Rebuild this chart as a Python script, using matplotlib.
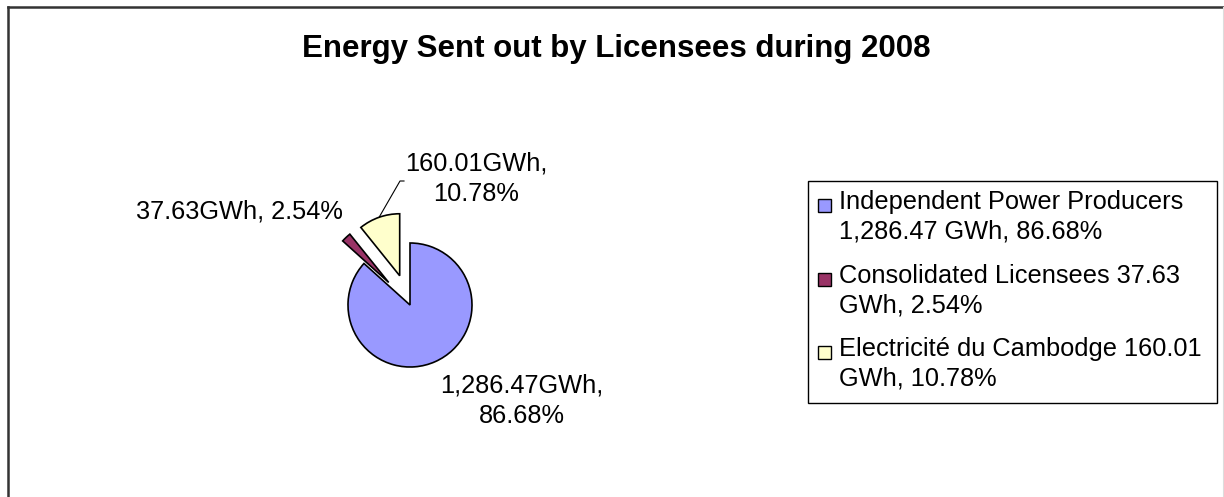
import numpy as np
import matplotlib
matplotlib.use("Agg")
import matplotlib.pyplot as plt
from matplotlib.patches import Rectangle
from matplotlib.lines import Line2D

# ---- data ----
title = "Energy Sent out by Licensees during 2008"
categories = ["Independent Power Producers", "Consolidated Licensees", "Electricité du Cambodge"]
values_gwh = [1286.47, 37.63, 160.01]
colors = ["#9999FF", "#993366", "#FFFFCC"]
explode = [0.0, 0.5, 0.5]

plt.rcParams['font.family'] = ['Liberation Sans', 'DejaVu Sans']

W, H = 1224, 497
fig = plt.figure(figsize=(W / 100, H / 100), dpi=100)

def fxy(x, y):
    return x / W, 1 - y / H

# chart border (left, top, right)
fig.add_artist(Line2D([8 / W, 8 / W], [0, 1 - 7 / H], color="#333333", lw=1.8))
fig.add_artist(Line2D([8 / W, 1 - 1 / W], [1 - 7 / H, 1 - 7 / H], color="#333333", lw=1.8))
fig.add_artist(Line2D([1 - 1.5 / W, 1 - 1.5 / W], [0, 1 - 7 / H], color="#dddddd", lw=0.8))

# title
tx, ty = fxy(616, 49)
fig.text(tx, ty, title, ha="center", va="center", fontsize=22.5, fontweight="bold")

# pie
CX, CY, R, HS = 410, 305, 62, 180
ax = fig.add_axes([(CX - HS) / W, (H - CY - HS) / H, 2 * HS / W, 2 * HS / H])
wedges, _ = ax.pie(values_gwh, colors=colors, explode=explode, startangle=90,
                   counterclock=False, radius=1.0,
                   wedgeprops=dict(edgecolor="black", linewidth=1.2))
ax.set_xlim(-HS / R, HS / R)
ax.set_ylim(-HS / R, HS / R)
ax.axis("off")

def d(px, py):
    return (px - CX) / R, (CY - py) / R

total = sum(values_gwh)
pcts = [v / total * 100 for v in values_gwh]

lab_ipp = f"{values_gwh[0]:,.2f}GWh,\n{pcts[0]:.2f}%"
lab_cl = f"{values_gwh[1]:,.2f}GWh, {pcts[1]:.2f}%"
lab_edc = f"{values_gwh[2]:,.2f}GWh,\n{pcts[2]:.2f}%"

FS = 18.3
ax.text(*d(522, 401), lab_ipp, ha="center", va="center", fontsize=FS, linespacing=1.35)
ax.text(*d(239, 211), lab_cl, ha="center", va="center", fontsize=FS)
ax.text(*d(476, 179), lab_edc, ha="center", va="center", fontsize=FS, linespacing=1.35)

# leader line for EDC label
w = wedges[2]
tm = np.deg2rad((w.theta1 + w.theta2) / 2)
cx, cy = w.center
p0 = (cx + w.r * np.cos(tm), cy + w.r * np.sin(tm))
p1 = d(400, 181)
p2 = d(404, 181)
ax.plot([p0[0], p1[0], p2[0]], [p0[1], p1[1], p2[1]], color="black", lw=0.8, clip_on=False)

# legend (manual, Excel-style)
lx0, ly0, lx1, ly1 = 808, 181, 1217, 403
fig.add_artist(Rectangle(fxy(lx0, ly1), (lx1 - lx0) / W, (ly1 - ly0) / H,
                         transform=fig.transFigure, fill=False, edgecolor="black", lw=1.0))
legend_labels = [
    f"{categories[0]}\n{values_gwh[0]:,.2f} GWh, {pcts[0]:.2f}%",
    f"{categories[1]} {values_gwh[1]:.2f}\nGWh, {pcts[1]:.2f}%",
    f"{categories[2]} {values_gwh[2]:.2f}\nGWh, {pcts[2]:.2f}%",
]
first_line_y = [203, 277, 350]
sq = 13
for lab, c, yy in zip(legend_labels, colors, first_line_y):
    fig.add_artist(Rectangle(fxy(818, yy + 2 + sq / 2), sq / W, sq / H, transform=fig.transFigure,
                             facecolor=c, edgecolor="black", lw=1.0))
    fig.text(*fxy(839, yy - 13), lab, ha="left", va="top", fontsize=FS, linespacing=1.3)

fig.savefig("out.png", dpi=100)
